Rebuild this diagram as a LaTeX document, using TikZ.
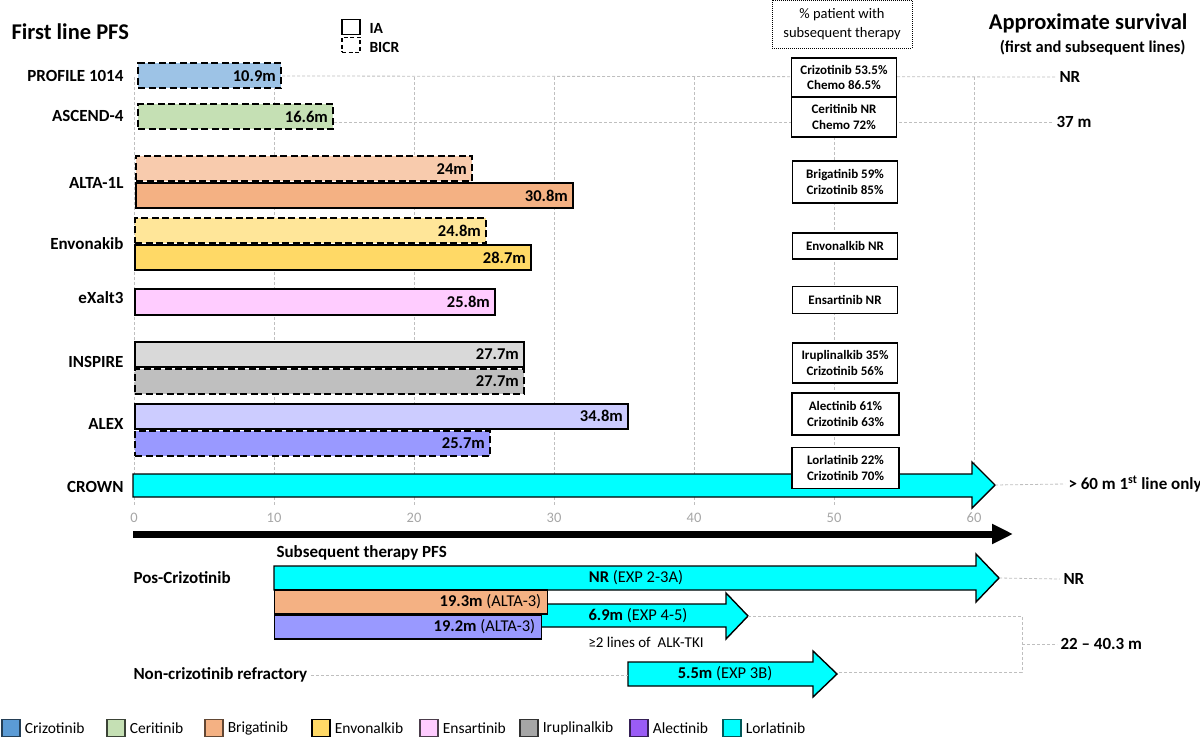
\documentclass[tikz,border=0pt]{standalone}
\usepackage{fontspec}
\setmainfont{Carlito}
\usetikzlibrary{arrows.meta,positioning}

\definecolor{crizo}{HTML}{9DC3E6}
\definecolor{crizodark}{HTML}{5B9BD5}
\definecolor{ceri}{HTML}{C5E0B4}
\definecolor{brigl}{HTML}{F8CBAD}
\definecolor{brig}{HTML}{F4B183}
\definecolor{envol}{HTML}{FFE699}
\definecolor{envo}{HTML}{FFD966}
\definecolor{ensa}{HTML}{FFCCFF}
\definecolor{irupl}{HTML}{D9D9D9}
\definecolor{irup}{HTML}{BFBFBF}
\definecolor{irupdark}{HTML}{A6A6A6}
\definecolor{alecl}{HTML}{CCCCFF}
\definecolor{alec}{HTML}{9999FF}
\definecolor{alecdark}{HTML}{9A5CF5}
\definecolor{lorl}{HTML}{00FFFF}
\definecolor{gridgray}{HTML}{BFBFBF}
\definecolor{tickgray}{HTML}{A6A6A6}

\begin{document}
\begin{tikzpicture}[x=1pt, y=-1pt]
  \tikzstyle{bar}=[rectangle, draw, line width=2pt, minimum height=25pt, inner sep=0pt, anchor=west]
  \tikzstyle{bicr}=[bar, dash pattern=on 7pt off 3.5pt]
  \tikzstyle{val}=[anchor=east, inner sep=6pt, font=\bfseries\fontsize{16.5}{18}\selectfont]
  \tikzstyle{trial}=[anchor=east, font=\bfseries\fontsize{17}{19}\selectfont]
  \tikzstyle{pct}=[rectangle, draw, line width=1.2pt, fill=white, align=center, minimum width=105pt, inner sep=2pt, font=\bfseries\fontsize{13}{15.5}\selectfont]
  \tikzstyle{grid}=[gridgray, line width=0.8pt, dash pattern=on 3pt off 2pt]
  \tikzstyle{surv}=[anchor=west, font=\bfseries\fontsize{17}{19}\selectfont]
  \tikzstyle{head}=[font=\bfseries\fontsize{22.5}{26}\selectfont]
  \tikzstyle{tick}=[tickgray, font=\fontsize{14.5}{16}\selectfont]
  \tikzstyle{lorarrow}=[draw, fill=lorl, line width=1.4pt, line join=miter]
  \tikzstyle{sub}=[rectangle, draw, line width=1.4pt, minimum height=24pt, inner sep=0pt, anchor=west]
  \tikzstyle{atext}=[font=\fontsize{16.5}{18}\selectfont]
  \tikzstyle{legsq}=[rectangle, draw, line width=1.2pt, minimum width=18pt, minimum height=17pt, inner sep=0pt]
  \tikzstyle{legtxt}=[inner sep=0pt, font=\fontsize{15.5}{17}\selectfont]

  \useasboundingbox (0,0) rectangle (1200,738);

  % grid of the first line chart
  \foreach \v in {0,10,...,60}
    \draw[grid] ({134+14*\v},77) -- ({134+14*\v},506);
  \foreach \v in {0,10,...,60}
    \node[tick] (t\v) at ({134+14*\v},518) {\v};

  % headings
  \node[head, anchor=west] (ttl) at (8,32) {First line PFS};
  \node[head, anchor=east] (surv) at (1191,23) {Approximate survival};
  \node[anchor=east, font=\bfseries\fontsize{16.5}{18}\selectfont] (survsub) at (1189,48) {(first and subsequent lines)};
  \node[draw, line width=0.9pt, dash pattern=on 1pt off 1pt, minimum width=140pt, minimum height=48pt,
        align=center, font=\fontsize{14.5}{19.5}\selectfont] (hdr) at (842,24) {\% patient with\\subsequent therapy};

  \node[draw, line width=1.6pt, minimum width=18pt, minimum height=15pt, inner sep=0pt] (iabox) at (351,27) {};
  \node[draw, line width=1.6pt, dash pattern=on 4pt off 2.5pt, minimum width=18pt, minimum height=15pt, inner sep=0pt] (bicrbox) at (351,45) {};
  \node[anchor=west, font=\bfseries\fontsize{15.5}{17}\selectfont] (ia) at (366,28) {IA};
  \node[anchor=west, font=\bfseries\fontsize{15.5}{17}\selectfont] (bicr) at (366,47) {BICR};

  % trials
  \node[trial] (n1) at (127,76)  {PROFILE 1014};
  \node[trial] (n2) at (127,116) {ASCEND-4};
  \node[trial] (n3) at (127,183) {ALTA-1L};
  \node[trial] (n4) at (127,244) {Envonakib};
  \node[trial] (n5) at (127,298) {eXalt3};
  \node[trial] (n6) at (127,362) {INSPIRE};
  \node[trial] (n7) at (127,424) {ALEX};
  \node[trial] (n8) at (127,487) {CROWN};

  \node[bicr, fill=crizo, minimum width=143pt, label={[val]east:10.9m}] (a1) at (137,76) {};
  \node[bicr, fill=ceri,  minimum width=195pt, label={[val]east:16.6m}] (a2) at (137,117) {};
  \node[bicr, fill=brigl, minimum width=336pt, label={[val]east:24m}]   (a3) at (135,169) {};
  \node[bar,  fill=brig,  minimum width=437pt, label={[val]east:30.8m}] (a4) at (135,196) {};
  \node[bicr, fill=envol, minimum width=351pt, label={[val]east:24.8m}] (a5) at (134,231) {};
  \node[bar,  fill=envo,  minimum width=396pt, label={[val]east:28.7m}] (a6) at (134,258) {};
  \node[bar,  fill=ensa,  minimum width=360pt, label={[val]east:25.8m}] (a7) at (134,302) {};
  \node[bar,  fill=irupl, minimum width=389pt, label={[val]east:27.7m}] (a8) at (134,354) {};
  \node[bicr, fill=irup,  minimum width=389pt, label={[val]east:27.7m}] (a9) at (134,381) {};
  \node[bar,  fill=alecl, minimum width=493pt, label={[val]east:34.8m}] (a10) at (134,416) {};
  \node[bicr, fill=alec,  minimum width=355pt, label={[val]east:25.7m}] (a11) at (134,443) {};

  \draw[lorarrow] (133,474) -- (972,474) -- (972,462) -- (995,485) -- (972,508) -- (972,497) -- (133,497) -- cycle;
  \coordinate (crowntip) at (995,485);

  % survival
  \node[surv] (s1) at (1056,77)  {NR};
  \node[surv] (s2) at (1053,122) {37 m};
  \node[surv] (s3) at (1065,484) {> 60 m 1\textsuperscript{st} line only};

  \draw[grid] (a1.east) -- (s1.west);
  \draw[grid] ([yshift=-5pt]a2.east) -- (s2.west);
  \draw[grid] (crowntip) -- (s3.west);

  % subsequent therapy boxes
  \node[pct, minimum height=39pt] (b1) at (844,77.5) {Crizotinib 53.5\%\\Chemo 86.5\%};
  \node[pct, minimum height=40pt] (b2) at (844,117)  {Ceritinib NR\\Chemo 72\%};
  \node[pct, minimum height=42pt] (b3) at (845,182)  {Brigatinib 59\%\\Crizotinib 85\%};
  \node[pct, minimum height=26pt] (b4) at (845,246)  {Envonalkib NR};
  \node[pct, minimum height=27pt] (b5) at (845,300)  {Ensartinib NR};
  \node[pct, minimum height=40pt] (b6) at (845,363)  {Iruplinalkib 35\%\\Crizotinib 56\%};
  \node[pct, minimum height=42pt, minimum width=107pt] (b7) at (845.5,414) {Alectinib 61\%\\Crizotinib 63\%};
  \node[pct, minimum height=41pt, minimum width=107pt] (b8) at (845.5,468) {Lorlatinib 22\%\\Crizotinib 70\%};

  % time axis
  \coordinate (ax0) at (133,534);
  \coordinate (ax1) at (1013,534);
  \draw[line width=7pt, -{Triangle[length=21pt, width=19pt]}] (ax0) -- (ax1);

  % subsequent lines
  \node[anchor=west, font=\bfseries\fontsize{17}{19}\selectfont] (subttl) at (273,553) {Subsequent therapy PFS};
  \node[anchor=west, font=\bfseries\fontsize{17}{19}\selectfont] (pos) at (130,578) {Pos-Crizotinib};
  \node[anchor=west, font=\bfseries\fontsize{17}{19}\selectfont] (nc) at (130,675) {Non-crizotinib refractory};

  \draw[lorarrow] (274,566) -- (976,566) -- (976,554) -- (999,578) -- (976,602) -- (976,590) -- (274,590) -- cycle;
  \node[atext] (e1) at (636,578) {\textbf{NR} (EXP 2-3A)};
  \coordinate (tipnr) at (999,578);

  \draw[lorarrow] (530,604) -- (726,604) -- (726,593) -- (748,616) -- (726,639) -- (726,627) -- (530,627) -- cycle;
  \node[atext] (e2) at (638,616) {\textbf{6.9m} (EXP 4-5)};
  \coordinate (tip69) at (748,616);

  \node[sub, fill=brig, minimum width=273pt, label={[atext, anchor=east, inner sep=7pt]east:\textbf{19.3m} (ALTA-3)}] (c1) at (274,602) {};
  \node[sub, fill=alec, minimum width=267pt, label={[atext, anchor=east, inner sep=7pt]east:\textbf{19.2m} (ALTA-3)}] (c2) at (274,627) {};
  \node[font=\fontsize{15}{17}\selectfont] (note) at (646,642) {≥2 lines of\ \ ALK-TKI};

  \draw[lorarrow] (628,662) -- (813,662) -- (813,651) -- (837,674) -- (813,697) -- (813,686) -- (628,686) -- cycle;
  \node[atext] (e3) at (725,674) {\textbf{5.5m} (EXP 3B)};
  \coordinate (tip55) at (837,672);
  \coordinate (tail55) at (628,675);

  \node[surv] (s4) at (1060,579) {NR};
  \node[surv] (s5) at (1057,644) {22 -- 40.3 m};
  \coordinate (brk) at (1022,644);

  \draw[grid] (tipnr) -- (s4.west);
  \draw[grid] (tip69) -| (brk) |- (tip55);
  \draw[grid] (brk) -- (s5.west);
  \draw[grid] (nc.east) -- (tail55);

  % legend
  \foreach \x/\c/\b/\t [count=\i] in {2/crizodark/crizodark!40!black/Crizotinib, 107/ceri/ceri!30!black/Ceritinib,
      205/brig/brig!40!black/Brigatinib, 312/envo/black/Envonalkib, 420/ensa/ensa!30!black/Ensartinib,
      520/irupdark/irupdark!30!black/Iruplinalkib, 630/alecdark/alecdark!35!black/Alectinib, 723/lorl/lorl!35!black/Lorlatinib}
  {
    \node[legsq, fill=\c, draw=\b] (sq\i) at ({\x+9},728) {};
    \node[legtxt, right=4pt of sq\i] (lt\i) {\t};
  }
\end{tikzpicture}
\end{document}
